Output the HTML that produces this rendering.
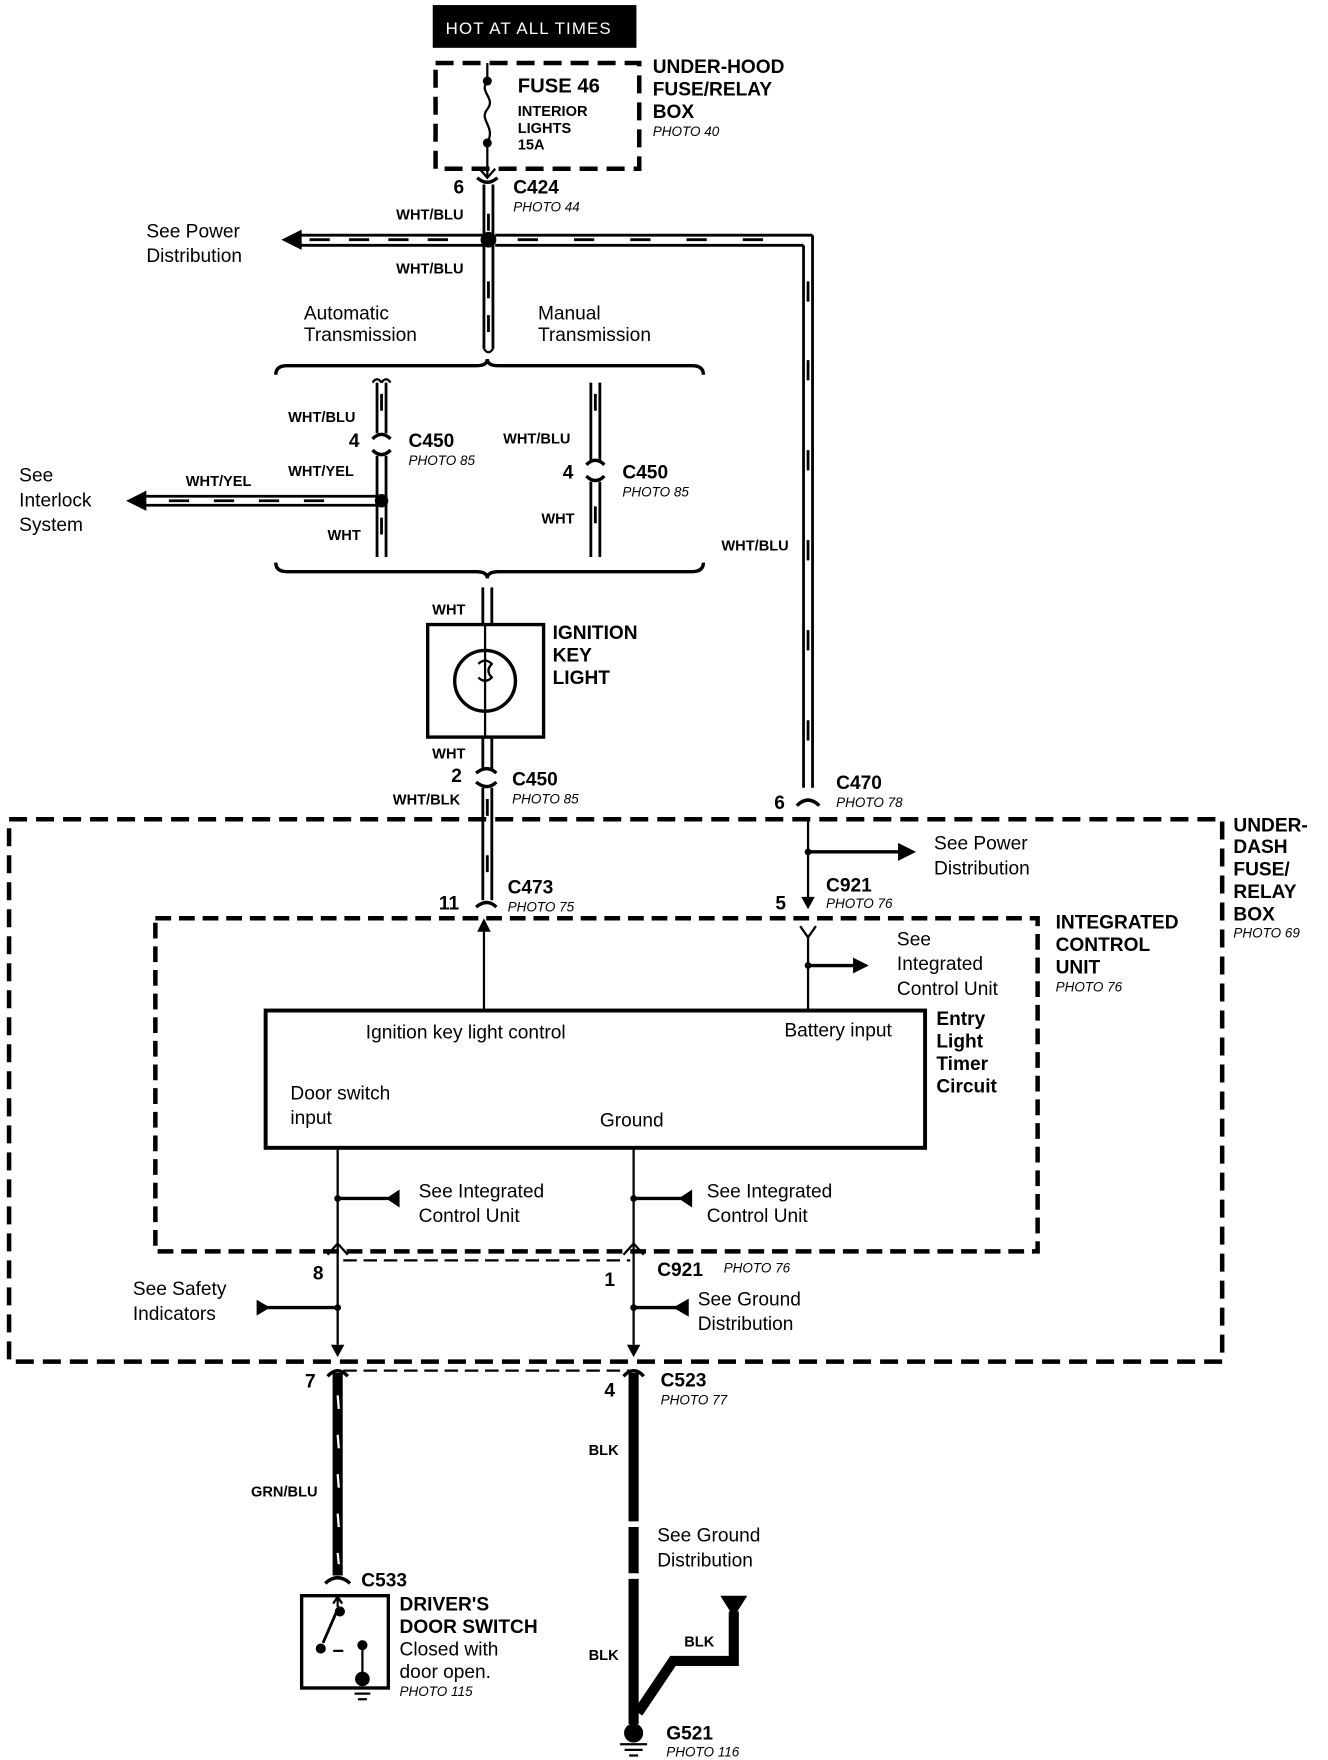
<!DOCTYPE html>
<html><head><meta charset="utf-8"><style>
html,body{margin:0;padding:0;background:#fff;}
svg{display:block;}
text{font-family:"Liberation Sans",Arial,sans-serif;fill:#000;}
.b{font-weight:bold;}
.i{font-style:italic;font-size:12px;}
.n{font-size:17px;}
.s{font-size:13px;font-weight:bold;}
</style></head><body>
<svg width="1328" height="1760" viewBox="0 0 1180 1564" xmlns="http://www.w3.org/2000/svg">
<g stroke="#000" fill="none">
<rect x="385" y="5" width="180" height="37" fill="#000"/>
<rect x="387" y="56" width="181" height="94" stroke-width="4" stroke-dasharray="16,8"/>
<line x1="433" y1="56" x2="433" y2="72" stroke-width="2"/>
<path d="M433,72 c-8,10 8,15 0,25 c-8,10 8,15 0,30" stroke-width="2"/>
<line x1="433" y1="127" x2="433" y2="158" stroke-width="2"/>
<path d="M426,150 L433,158 L440,150" stroke-width="2"/>
<path d="M424,158 q9,8 18,0" stroke-width="3"/>
<line x1="430" y1="164" x2="430" y2="310" stroke-width="2.5"/>
<line x1="438" y1="164" x2="438" y2="310" stroke-width="2.5"/>
<path d="M430,310 q4,6 8,0" stroke-width="2"/>
<line x1="262" y1="209" x2="430" y2="209" stroke-width="2.5"/>
<line x1="262" y1="218" x2="430" y2="218" stroke-width="2.5"/>
<line x1="440" y1="209" x2="722" y2="209" stroke-width="2.5"/>
<line x1="440" y1="218" x2="714" y2="218" stroke-width="2.5"/>
<line x1="722" y1="209" x2="722" y2="700" stroke-width="2.5"/>
<line x1="714" y1="218" x2="714" y2="700" stroke-width="2.5"/>
<g stroke-width="2.5">
<path d="M275,213 h18 M310,213 h18 M345,213 h18 M380,213 h18 M460,213 h18 M510,213 h18 M560,213 h18 M610,213 h18 M660,213 h18"/>
<path d="M718,250 v18 M718,320 v18 M718,400 v18 M718,480 v18 M718,560 v18 M718,640 v18 M434,190 v15 M434,250 v15 M434,280 v15"/>
</g>
<polygon points="250,213 268,204 268,222" fill="#000" stroke="none"/>
<path d="M245,333 q0,-8 10,-8 h168 q10,0 10,-6 q0,6 10,6 h172 q10,0 10,8" stroke-width="3"/>
<path d="M245,500 q0,8 10,8 h168 q10,0 10,6 q0,-6 10,-6 h172 q10,0 10,-8" stroke-width="3"/>
<line x1="335" y1="340" x2="335" y2="385" stroke-width="2.5"/>
<line x1="343" y1="340" x2="343" y2="385" stroke-width="2.5"/>
<path d="M331,390 q8,-8 16,0 M331,400 q8,8 16,0" stroke-width="3"/>
<line x1="335" y1="405" x2="335" y2="495" stroke-width="2.5"/>
<line x1="343" y1="405" x2="343" y2="495" stroke-width="2.5"/>
<line x1="128" y1="441" x2="335" y2="441" stroke-width="2.5"/>
<line x1="128" y1="449" x2="335" y2="449" stroke-width="2.5"/>
<path d="M150,445 h18 M190,445 h18 M230,445 h18 M270,445 h18 M339,350 v15 M339,460 v15" stroke-width="2.5"/>
<polygon points="112,445 130,436 130,454" fill="#000" stroke="none"/>
<path d="M331,340 q4,-6 8,0 M339,340 q4,-6 8,0" stroke-width="2"/>
<line x1="525" y1="340" x2="525" y2="410" stroke-width="2.5"/>
<line x1="533" y1="340" x2="533" y2="410" stroke-width="2.5"/>
<path d="M521,413 q8,-8 16,0 M521,423 q8,8 16,0" stroke-width="3"/>
<line x1="525" y1="428" x2="525" y2="495" stroke-width="2.5"/>
<line x1="533" y1="428" x2="533" y2="495" stroke-width="2.5"/>
<path d="M529,350 v15 M529,450 v15" stroke-width="2.5"/>
<line x1="429" y1="522" x2="429" y2="555" stroke-width="2.5"/>
<line x1="437" y1="522" x2="437" y2="555" stroke-width="2.5"/>
<rect x="380" y="555" width="103" height="100" stroke-width="3"/>
<circle cx="431" cy="605" r="27" stroke-width="3"/>
<line x1="431" y1="555" x2="431" y2="655" stroke-width="2"/>
<path d="M425,590 q6,-6 12,0 q-6,6 0,12 q-6,6 -12,0" stroke-width="2"/>
<line x1="429" y1="655" x2="429" y2="683" stroke-width="2.5"/>
<line x1="437" y1="655" x2="437" y2="683" stroke-width="2.5"/>
<path d="M423,687 q10,-8 18,0 M423,695 q10,8 18,0" stroke-width="3"/>
<line x1="429" y1="700" x2="429" y2="800" stroke-width="2.5"/>
<line x1="437" y1="700" x2="437" y2="800" stroke-width="2.5"/>
<path d="M433,710 v15 M433,760 v15" stroke-width="2.5"/>
<path d="M423,806 q10,-8 18,0" stroke-width="3"/>
<path d="M708,716 q10,-10 20,0" stroke-width="3"/>
<rect x="8" y="728" width="1078" height="482" stroke-width="4" stroke-dasharray="16,8"/>
<line x1="718" y1="730" x2="718" y2="798" stroke-width="2"/>
<line x1="718" y1="757" x2="800" y2="757" stroke-width="3"/>
<path d="M711,823 L718,833 L725,823" stroke-width="2"/>
<rect x="138" y="816" width="784" height="296" stroke-width="4" stroke-dasharray="14,7"/>
<line x1="718" y1="833" x2="718" y2="898" stroke-width="2"/>
<line x1="718" y1="858" x2="760" y2="858" stroke-width="3"/>
<line x1="430" y1="898" x2="430" y2="826" stroke-width="2"/>
<rect x="236" y="898" width="586" height="122" stroke-width="3.5"/>
<line x1="300" y1="1020" x2="300" y2="1195" stroke-width="2"/>
<line x1="563" y1="1020" x2="563" y2="1195" stroke-width="2"/>
<line x1="300" y1="1065" x2="345" y2="1065" stroke-width="3"/>
<line x1="563" y1="1065" x2="605" y2="1065" stroke-width="3"/>
<line x1="230" y1="1162" x2="300" y2="1162" stroke-width="3"/>
<line x1="563" y1="1162" x2="610" y2="1162" stroke-width="3"/>
<path d="M291,1115 L300,1105 L309,1115 M554,1115 L563,1105 L572,1115" stroke-width="2"/>
<line x1="305" y1="1120" x2="560" y2="1120" stroke-width="2" stroke-dasharray="12,6"/>
<path d="M291,1223 q9,-10 18,0 M554,1223 q9,-10 18,0" stroke-width="3"/>
<line x1="305" y1="1218" x2="560" y2="1218" stroke-width="2" stroke-dasharray="12,6"/>
<line x1="300" y1="1220" x2="300" y2="1400" stroke-width="9"/>
<path d="M300,1240 l1,12 M300,1275 l1,12 M300,1310 l1,12 M300,1345 l1,12 M300,1380 l1,10" stroke="#fff" stroke-width="2"/>
<path d="M289,1407 q11,-10 22,0" stroke-width="3"/>
<line x1="563" y1="1220" x2="563" y2="1352" stroke-width="9"/>
<line x1="563" y1="1357" x2="563" y2="1398" stroke-width="9"/>
<line x1="563" y1="1403" x2="563" y2="1532" stroke-width="9"/>
<path d="M567,1522 L598,1476 H652 V1432" stroke-width="9"/>
<polygon points="640,1418 664,1418 652,1437" fill="#000" stroke="none"/>
<circle cx="563" cy="1540" r="8" fill="#000"/>
<path d="M551,1550 h24 M555,1555 h16 M559,1560 h8" stroke-width="2"/>
<rect x="268" y="1418" width="77" height="82" stroke-width="3"/>
<path d="M300,1418 v10 M296,1425 l4,-6 4,6" stroke-width="2"/>
<line x1="300" y1="1430" x2="287" y2="1460" stroke-width="2.5"/>
<circle cx="302" cy="1432" r="4" fill="#000"/>
<circle cx="285" cy="1465" r="4" fill="#000"/>
<line x1="296" y1="1467" x2="305" y2="1467" stroke-width="2"/>
<circle cx="322" cy="1462" r="4" fill="#000"/>
<line x1="322" y1="1462" x2="322" y2="1492" stroke-width="2"/>
<circle cx="322" cy="1492" r="6" fill="#000"/>
<path d="M312,1500 h20 M315,1505 h14 M318,1510 h8" stroke-width="2"/>
</g>
<g fill="#000">
<circle cx="433" cy="72" r="4"/><circle cx="433" cy="127" r="4"/>
<circle cx="434" cy="213" r="7"/>
<circle cx="339" cy="445" r="6"/>
<circle cx="718" cy="757" r="3"/><circle cx="718" cy="858" r="3"/>
<circle cx="300" cy="1065" r="3"/><circle cx="563" cy="1065" r="3"/>
<circle cx="300" cy="1162" r="3"/><circle cx="563" cy="1162" r="3"/>
<polygon points="343,1065 355,1057 355,1073"/>
<polygon points="603,1065 615,1057 615,1073"/>
<polygon points="228,1155 240,1162 228,1169"/>
<polygon points="598,1162 612,1154 612,1170"/>
<polygon points="758,851 772,858 758,865"/>
<polygon points="798,749 814,757 798,765"/>
<polygon points="712,797 718,808 724,797"/>
<polygon points="424,828 430,816 436,828"/>
<polygon points="294,1195 300,1206 306,1195"/>
<polygon points="557,1195 563,1206 569,1195"/>
</g>
<text x="396" y="30" font-size="15" style="fill:#fff;letter-spacing:1px">HOT AT ALL TIMES</text>
<text x="460" y="82" class="b" font-size="18">FUSE 46</text>
<text x="460" y="103" class="s">INTERIOR</text>
<text x="460" y="118" class="s">LIGHTS</text>
<text x="460" y="133" class="s" font-size="11">15A</text>
<text x="580" y="65" class="b n">UNDER-HOOD</text>
<text x="580" y="85" class="b n">FUSE/RELAY</text>
<text x="580" y="105" class="b n">BOX</text>
<text x="580" y="121" class="i">PHOTO 40</text>
<text x="403" y="172" class="b n">6</text>
<text x="456" y="172" class="b n">C424</text>
<text x="456" y="188" class="i">PHOTO 44</text>
<text x="352" y="195" class="s">WHT/BLU</text>
<text x="352" y="243" class="s">WHT/BLU</text>
<text x="130" y="211" class="n">See Power</text>
<text x="130" y="233" class="n">Distribution</text>
<text x="270" y="284" class="n">Automatic</text>
<text x="270" y="303" class="n">Transmission</text>
<text x="478" y="284" class="n">Manual</text>
<text x="478" y="303" class="n">Transmission</text>
<text x="256" y="375" class="s">WHT/BLU</text>
<text x="310" y="397" class="b n">4</text>
<text x="363" y="397" class="b n">C450</text>
<text x="363" y="413" class="i">PHOTO 85</text>
<text x="256" y="423" class="s">WHT/YEL</text>
<text x="291" y="480" class="s">WHT</text>
<text x="165" y="432" class="s">WHT/YEL</text>
<text x="17" y="428" class="n">See</text>
<text x="17" y="450" class="n">Interlock</text>
<text x="17" y="472" class="n">System</text>
<text x="447" y="394" class="s">WHT/BLU</text>
<text x="500" y="425" class="b n">4</text>
<text x="553" y="425" class="b n">C450</text>
<text x="553" y="441" class="i">PHOTO 85</text>
<text x="481" y="465" class="s">WHT</text>
<text x="641" y="489" class="s">WHT/BLU</text>
<text x="384" y="546" class="s">WHT</text>
<text x="491" y="568" class="b n">IGNITION</text>
<text x="491" y="588" class="b n">KEY</text>
<text x="491" y="608" class="b n">LIGHT</text>
<text x="384" y="674" class="s">WHT</text>
<text x="401" y="695" class="b n">2</text>
<text x="455" y="698" class="b n">C450</text>
<text x="455" y="714" class="i">PHOTO 85</text>
<text x="349" y="715" class="s">WHT/BLK</text>
<text x="688" y="719" class="b n">6</text>
<text x="743" y="701" class="b n">C470</text>
<text x="743" y="717" class="i">PHOTO 78</text>
<text x="1096" y="739" class="b n">UNDER-</text>
<text x="1096" y="758" class="b n">DASH</text>
<text x="1096" y="778" class="b n">FUSE/</text>
<text x="1096" y="798" class="b n">RELAY</text>
<text x="1096" y="818" class="b n">BOX</text>
<text x="1096" y="833" class="i">PHOTO 69</text>
<text x="830" y="755" class="n">See Power</text>
<text x="830" y="777" class="n">Distribution</text>
<text x="689" y="808" class="b n">5</text>
<text x="734" y="792" class="b n">C921</text>
<text x="734" y="807" class="i">PHOTO 76</text>
<text x="390" y="808" class="b n">11</text>
<text x="451" y="794" class="b n">C473</text>
<text x="451" y="810" class="i">PHOTO 75</text>
<text x="938" y="825" class="b n">INTEGRATED</text>
<text x="938" y="845" class="b n">CONTROL</text>
<text x="938" y="865" class="b n">UNIT</text>
<text x="938" y="881" class="i">PHOTO 76</text>
<text x="797" y="840" class="n">See</text>
<text x="797" y="862" class="n">Integrated</text>
<text x="797" y="884" class="n">Control Unit</text>
<text x="832" y="911" class="b n">Entry</text>
<text x="832" y="931" class="b n">Light</text>
<text x="832" y="951" class="b n">Timer</text>
<text x="832" y="971" class="b n">Circuit</text>
<text x="325" y="923" class="n">Ignition key light control</text>
<text x="697" y="921" class="n">Battery input</text>
<text x="258" y="977" class="n">Door switch</text>
<text x="258" y="999" class="n">input</text>
<text x="533" y="1001" class="n">Ground</text>
<text x="372" y="1064" class="n">See  Integrated</text>
<text x="372" y="1086" class="n">Control Unit</text>
<text x="628" y="1064" class="n">See  Integrated</text>
<text x="628" y="1086" class="n">Control Unit</text>
<text x="278" y="1137" class="b n">8</text>
<text x="537" y="1143" class="b n">1</text>
<text x="584" y="1134" class="b n">C921</text>
<text x="643" y="1131" class="i">PHOTO 76</text>
<text x="118" y="1151" class="n">See Safety</text>
<text x="118" y="1173" class="n">Indicators</text>
<text x="620" y="1160" class="n">See Ground</text>
<text x="620" y="1182" class="n">Distribution</text>
<text x="271" y="1233" class="b n">7</text>
<text x="537" y="1241" class="b n">4</text>
<text x="587" y="1232" class="b n">C523</text>
<text x="587" y="1248" class="i">PHOTO 77</text>
<text x="223" y="1330" class="s">GRN/BLU</text>
<text x="523" y="1293" class="s">BLK</text>
<text x="584" y="1370" class="n">See Ground</text>
<text x="584" y="1392" class="n">Distribution</text>
<text x="523" y="1475" class="s">BLK</text>
<text x="608" y="1463" class="s">BLK</text>
<text x="321" y="1410" class="b n">C533</text>
<text x="355" y="1431" class="b n">DRIVER'S</text>
<text x="355" y="1451" class="b n">DOOR SWITCH</text>
<text x="355" y="1471" class="n">Closed with</text>
<text x="355" y="1491" class="n">door open.</text>
<text x="355" y="1507" class="i">PHOTO 115</text>
<text x="592" y="1546" class="b n">G521</text>
<text x="592" y="1561" class="i">PHOTO 116</text>
</svg>
</body></html>
